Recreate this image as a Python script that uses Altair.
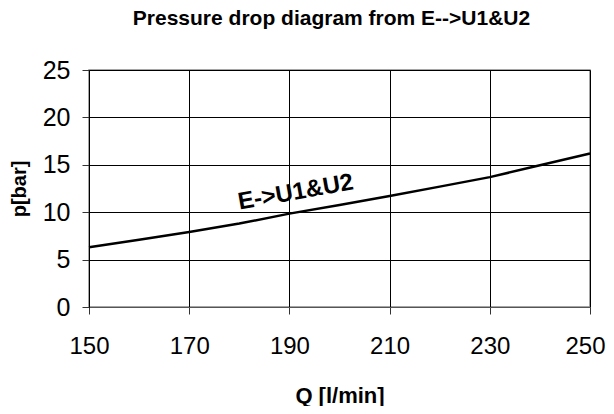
import altair as alt
import pandas as pd

q_values = [150, 160, 170, 180, 190, 200, 210, 220, 230, 240, 250]
p_values = [6.3, 7.1, 7.9, 8.8, 9.85, 10.75, 11.7, 12.7, 13.7, 14.95, 16.2]
series_label = ["E->U1&U2"]
label_pos_q = [191.5]
label_pos_p = [11.35]

df = pd.DataFrame({"Q": q_values, "p": p_values})
lab = pd.DataFrame({"Q": label_pos_q, "p": label_pos_p, "t": series_label})

FONT = "Liberation Sans"

x = alt.X("Q:Q", scale=alt.Scale(domain=[150, 250], nice=False, zero=False),
          axis=alt.Axis(values=[150, 170, 190, 210, 230, 250], title="Q [l/min]",
                        grid=True, gridColor="black", gridOpacity=1, gridWidth=1,
                        domainColor="#555", tickColor="#333", tickSize=7,
                        labelFontSize=24, labelFont=FONT, labelColor="black", labelPadding=20,
                        labelFlush=False,
                        labelOffset={"condition": {"test": "datum.value == 250", "value": -5},
                                     "value": 0},
                        titleFont=FONT, titleFontSize=22, titleFontWeight="bold",
                        titleColor="black", titlePadding=27))
y = alt.Y("p:Q", scale=alt.Scale(domain=[0, 25], nice=False),
          axis=alt.Axis(values=[0, 5, 10, 15, 20, 25], title="p[bar]",
                        grid=True, gridColor="black", gridOpacity=1, gridWidth=1,
                        domainColor="black", tickColor="#333", tickSize=7,
                        labelFontSize=25, labelFont=FONT, labelColor="black", labelPadding=12,
                        titleFont=FONT, titleFontSize=20, titleFontWeight="bold",
                        titleColor="black", titlePadding=13))

line = alt.Chart(df).mark_line(color="black", strokeWidth=2.5).encode(x=x, y=y)
text = alt.Chart(lab).mark_text(font=FONT, fontSize=24, fontWeight="bold", angle=350,
                                baseline="alphabetic", align="center",
                                color="black").encode(x="Q:Q", y="p:Q", text="t:N")

chart = (line + text).properties(
    width=501, height=237,
    padding={"left": 81, "top": 62, "right": 16, "bottom": 99},
    autosize=alt.AutoSizeParams(type="none"),
    title=alt.TitleParams("Pressure drop diagram from E-->U1&U2", font=FONT, fontSize=21,
                          fontWeight="bold", color="black", offset=12, dx=-8,
                          baseline="alphabetic"),
).configure_view(stroke="#888", strokeWidth=1.5)

chart.save("out.html", embed_options={"renderer": "svg", "actions": False})
